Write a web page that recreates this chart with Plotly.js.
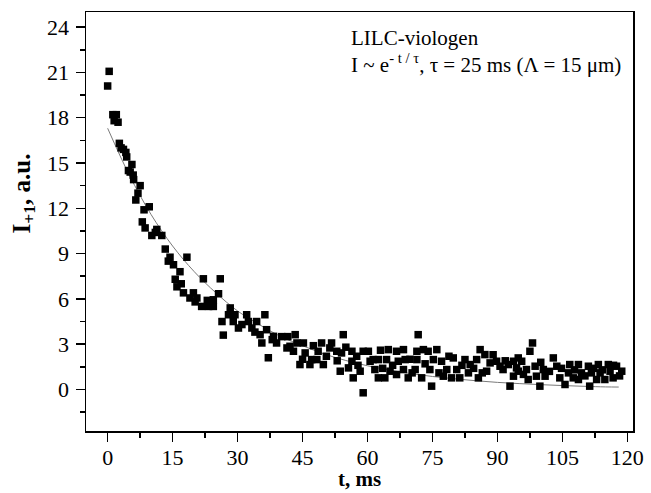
<!DOCTYPE html>
<html>
<head>
<meta charset="utf-8">
<script src="https://cdn.plot.ly/plotly-3.0.1.min.js"></script>
<style>html,body{margin:0;padding:0;background:#fff;}#chart{width:651px;height:493px;}</style>
</head>
<body>
<div id="chart"></div>
<script>
const tMs = [0.0,0.35,1.2,2.0,1.5,2.4,2.7,3.65,4.2,4.4,5.6,4.8,5.2,6.0,7.5,7.0,6.5,9.6,8.0,8.65,10.2,11.35,12.5,13.3,14.4,18.3,15.2,16.7,15.6,16.0,22.1,26.0,17.5,19.0,20.6,19.8,21.7,23.3,24.4,24.4,25.6,28.3,27.9,29.4,26.4,26.7,29.0,30.2,32.1,32.5,33.3,34.4,36.3,35.2,35.6,37.1,36.7,38.3,39.0,40.2,41.6,42.1,43.3,41.4,42.9,44.4,43.7,45.2,45.6,47.1,46.7,49.4,48.6,48.3,49.8,51.7,51.3,54.4,52.9,54.0,53.7,56.4,57.5,56.4,55.6,56.7,58.3,59.0,59.0,60.2,60.6,61.7,62.5,64.8,64.4,65.2,66.7,67.1,66.7,61.3,62.5,64.0,71.7,68.3,68.7,68.3,69.4,71.4,71.4,71.0,72.5,72.9,74.0,76.0,75.2,74.4,74.8,77.1,78.3,77.5,79.8,80.6,81.3,79.4,82.5,83.7,83.3,86.0,87.1,85.2,85.6,88.3,87.5,89.8,90.6,91.3,92.5,93.7,92.9,94.8,94.8,98.1,97.5,95.6,94.4,93.7,96.7,97.1,98.7,99.0,99.8,100.6,101.0,102.9,103.7,104.4,105.6,106.7,106.4,107.5,108.7,109.4,108.7,111.0,111.7,111.3,113.3,113.7,112.9,115.6,116.0,114.8,117.5,118.7,116.7,
  3.1,5.9,8.4,11.0,14.0,17.0,20.2,23.0,31.0,34.0,38.0,45.0,47.5,50.5,53.0,55.0,57.8,63.0,63.5,65.8,69.8,70.3,73.3,76.5,78.8,81.8,84.5,86.5,89.0,91.8,96.0,100.0,102.0,104.8,107.8,110.2,112.2,114.2,116.8,118.2];
const intensity = [20.1,21.07,18.2,18.2,17.8,17.7,16.3,15.9,15.7,15.4,14.9,14.5,14.4,13.9,13.5,13.0,12.55,12.1,11.1,10.7,10.2,10.6,10.2,9.3,8.76,8.76,8.26,7.8,7.3,6.8,7.33,7.33,6.4,6.06,6.06,6.4,5.5,5.5,5.5,5.94,6.34,5.4,4.95,4.95,4.5,3.6,4.5,4.07,4.95,4.5,4.07,4.5,4.95,3.63,3.08,2.1,3.96,3.52,3.08,3.5,3.5,2.86,3.63,2.75,2.53,1.65,3.08,3.08,2.42,1.98,1.65,3.08,2.53,1.98,1.65,3.08,2.75,3.63,2.53,2.42,1.21,2.53,2.2,1.87,1.43,0.77,1.21,-0.22,2.53,2.53,1.87,1.32,0.77,2.64,1.98,1.21,2.53,1.87,0.99,1.98,1.98,0.77,3.63,2.64,1.98,1.32,0.77,2.53,1.98,1.32,0.77,2.64,2.53,2.64,1.98,1.32,0.22,1.87,1.32,0.88,2.09,1.32,0.77,0.77,1.98,1.65,1.1,2.64,2.31,1.98,0.77,1.76,1.21,1.87,1.54,1.32,1.65,1.87,0.22,2.09,1.21,3.08,2.53,1.87,1.43,0.88,1.32,0.66,1.54,0.88,0.22,1.32,0.88,2.09,1.54,0.77,0.33,1.65,1.1,0.77,1.65,1.1,0.66,1.54,1.1,0.22,1.65,1.1,0.66,1.65,1.21,0.66,1.54,1.21,0.77,
  16.0,14.2,11.9,10.4,8.5,7.0,5.8,5.9,4.3,3.8,3.3,2.0,2.9,2.2,1.9,2.8,1.6,2.6,1.4,1.6,2.0,1.1,1.7,1.1,2.2,1.6,1.4,1.1,2.3,1.9,1.0,1.8,1.2,1.4,1.3,0.9,1.4,1.3,1.6,0.9];

// Fitted curve, values
const fitT = [0,5,10,15,20,25,30,35,40,45,50,55,60,65,70,75,80,85,90,95,100,105,110,115,118];
const fitI = [17.3,14.2,11.6,9.5,7.8,6.4,5.2,4.3,3.5,2.9,2.35,1.92,1.57,1.29,1.05,0.86,0.71,0.58,0.47,0.39,0.32,0.26,0.21,0.17,0.16];

const xTicks = [0,15,30,45,60,75,90,105,120];
const yTicks = [0,3,6,9,12,15,18,21,24];

const serif = 'Liberation Serif, Times New Roman, serif';

const traces = [
  {x: fitT, y: fitI, mode: 'lines', line: {color: '#7a7a7a', width: 1, shape: 'spline'}, hoverinfo: 'skip'},
  {x: tMs, y: intensity, mode: 'markers', marker: {symbol: 'square', size: 7.5, color: '#000'}}
];

const layout = {
  width: 651, height: 493,
  margin: {l: 86, r: 18, t: 12, b: 62},
  paper_bgcolor: '#fff', plot_bgcolor: '#fff',
  showlegend: false,
  font: {family: serif, color: '#000', size: 22},
  xaxis: {
    range: [-5, 121.3], tickvals: xTicks, ticktext: xTicks.map(String),
    showgrid: false, zeroline: false, showline: true, mirror: true,
    linecolor: '#000', linewidth: 1.5, ticks: 'outside', ticklen: 9, tickwidth: 1.5, tickcolor: '#000',
    minor: {tickvals: [7.5,22.5,37.5,52.5,67.5,82.5,97.5,112.5], ticks: 'outside', ticklen: 5, tickwidth: 1.5, tickcolor: '#000'},
    tickfont: {family: serif, size: 22},
    ticklabelstandoff: -3
  },
  yaxis: {
    range: [-2.75, 25], tickvals: yTicks, ticktext: yTicks.map(String),
    showgrid: false, zeroline: false, showline: true, mirror: true,
    linecolor: '#000', linewidth: 1.5, ticks: 'outside', ticklen: 9, tickwidth: 1.5, tickcolor: '#000',
    minor: {tickvals: [-1.5,1.5,4.5,7.5,10.5,13.5,16.5,19.5,22.5], ticks: 'outside', ticklen: 5, tickwidth: 1.5, tickcolor: '#000'},
    tickfont: {family: serif, size: 22},
    ticklabelstandoff: 2
  },
  annotations: [
    {xref: 'paper', yref: 'paper', x: 0.5, y: -0.115, xanchor: 'center', yanchor: 'middle', showarrow: false, borderpad: 0,
     text: '<b>t, ms</b>', font: {family: serif, size: 21, color: '#000'}},
    {xref: 'paper', yref: 'paper', x: -0.114, y: 0.566, xanchor: 'center', yanchor: 'middle', textangle: -90, showarrow: false,
     text: '<b>I<sub>+1</sub>, a.u.</b>', font: {family: serif, size: 25, color: '#000'}},
    {xref: 'paper', yref: 'paper', x: 0.48, y: 0.972, xanchor: 'left', yanchor: 'top', align: 'left', showarrow: false,
     text: 'LILC-viologen<br>I ~ e<sup>- t / τ</sup>, τ = 25 ms (Λ = 15 μm)',
     font: {family: serif, size: 21, color: '#000'}}
  ]
};

Plotly.newPlot('chart', traces, layout, {staticPlot: true, displayModeBar: false});
</script>
</body>
</html>
